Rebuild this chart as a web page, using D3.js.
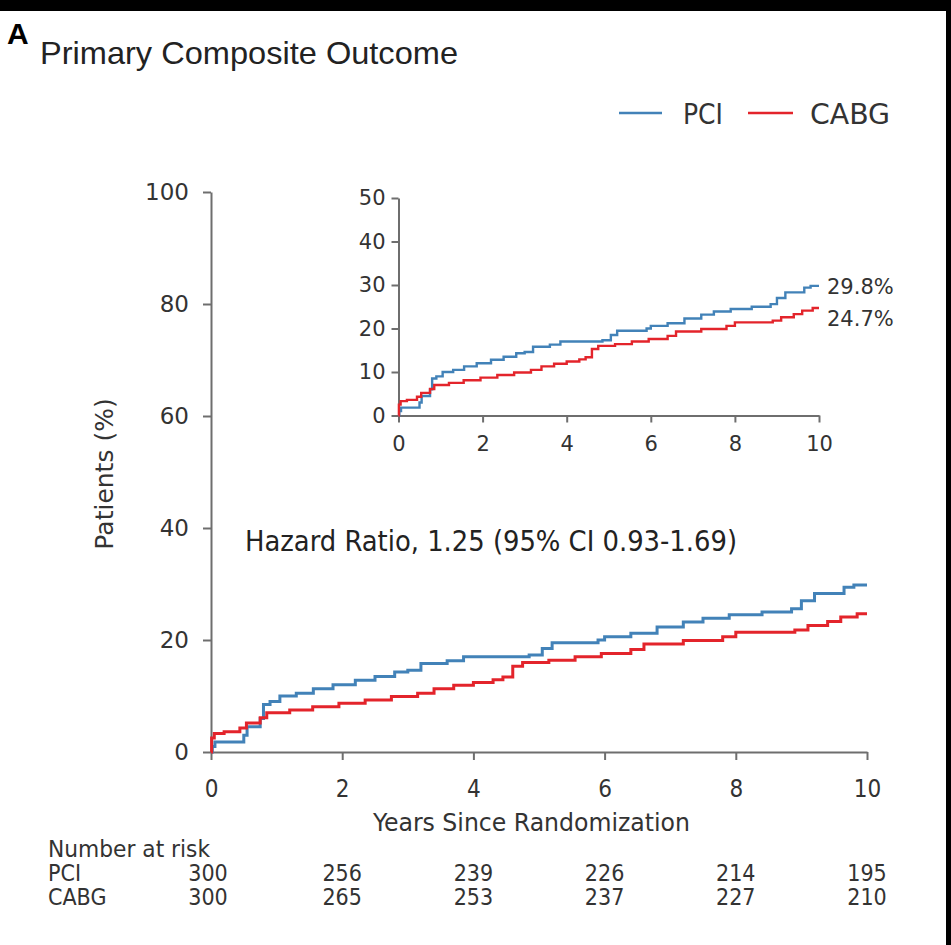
<!DOCTYPE html>
<html>
<head>
<meta charset="utf-8">
<script src="https://cdn.jsdelivr.net/npm/d3@7.9.0/dist/d3.min.js"></script>
<style>
  body { margin: 0; background: #fff; }
  svg { display: block; }
  .tick text { fill: #333; }
</style>
</head>
<body>
<svg id="chart" width="951" height="945"></svg>
<script>
// values
const riskYears = [0, 2, 4, 6, 8, 10];
const pciRisk = [300, 256, 239, 226, 214, 195];
const cabgRisk = [300, 265, 253, 237, 227, 210];

const mainYTicks = [0, 20, 40, 60, 80, 100];
const insetYTicks = [0, 10, 20, 30, 40, 50];

const pciTimes = [0, 0.02, 0.06, 0.47, 0.5, 0.55, 0.75, 0.8, 0.9, 1.05, 1.3, 1.56, 1.86, 2.2, 2.5, 2.8, 3.0, 3.2, 3.6, 3.85,
  4.85, 5.05, 5.2, 5.9, 6.0, 6.4, 6.8, 7.2, 7.5, 7.9, 8.4, 8.85, 9.0, 9.2, 9.65, 9.8, 10.0];
const pciValues = [0, 1.0, 1.8, 1.8, 3.0, 4.5, 6.0, 8.5, 9.0, 10.0, 10.5, 11.3, 12.0, 12.8, 13.5, 14.3, 14.6, 15.8, 16.3, 17.0,
  17.3, 18.5, 19.5, 20.0, 20.6, 21.2, 22.3, 23.2, 23.9, 24.5, 25.0, 25.6, 27.0, 28.3, 29.4, 29.8, 29.8];

const cabgTimes = [0, 0.01, 0.05, 0.2, 0.44, 0.54, 0.75, 0.85, 1.2, 1.55, 1.95, 2.35, 2.75, 3.15, 3.4, 3.7, 4.0, 4.3, 4.45,
  4.6, 4.75, 5.15, 5.55, 5.95, 6.4, 6.6, 7.2, 7.8, 8.0, 8.9, 9.1, 9.4, 9.6, 9.85, 10.0];
const cabgValues = [0, 2.5, 3.3, 3.6, 4.3, 5.2, 6.1, 7.0, 7.5, 8.1, 8.7, 9.3, 9.9, 10.5, 11.3, 11.9, 12.4, 12.9, 13.4,
  15.3, 16.0, 16.4, 17.0, 17.6, 18.3, 19.3, 19.9, 20.6, 21.4, 21.8, 22.6, 23.3, 24.1, 24.7, 24.7];

const pciEnd = '29.8%';
const cabgEnd = '24.7%';

const BLUE = '#4282b8';
const RED = '#e3242b';
const AXIS = '#6e6e6e';
const WIDE = '"DejaVu Sans", Verdana, sans-serif';
const NARROW = '"DejaVu Sans Condensed", "Liberation Sans Narrow", "DejaVu Sans", sans-serif';
const ARIAL = '"Liberation Sans", Arial, sans-serif';

const pci = pciTimes.map((t, i) => ({ t, v: pciValues[i] }));
const cabg = cabgTimes.map((t, i) => ({ t, v: cabgValues[i] }));

const svg = d3.select('#chart');
svg.append('rect').attr('width', 951).attr('height', 945).attr('fill', '#fff');
// black frame remnants from the scan
svg.append('rect').attr('x', 0).attr('y', 0).attr('width', 951).attr('height', 11).attr('fill', '#000');
svg.append('rect').attr('x', 946).attr('y', 0).attr('width', 5).attr('height', 945).attr('fill', '#000');

// panel letter + title
svg.append('text').attr('x', 7).attr('y', 44).attr('font-family', ARIAL).attr('font-weight', 'bold')
  .attr('font-size', 30).attr('fill', '#000').text('A');
svg.append('text').attr('x', 40).attr('y', 64).attr('font-family', ARIAL).attr('font-size', 32)
  .attr('fill', '#222').attr('textLength', 418).attr('lengthAdjust', 'spacingAndGlyphs')
  .text('Primary Composite Outcome');

// legend
const legend = svg.append('g').attr('font-family', NARROW).attr('font-size', 28).attr('fill', '#333');
legend.append('line').attr('x1', 619).attr('x2', 662).attr('y1', 113).attr('y2', 113)
  .attr('stroke', BLUE).attr('stroke-width', 2.5);
legend.append('text').attr('x', 683).attr('y', 124).attr('textLength', 40).attr('lengthAdjust', 'spacingAndGlyphs').text('PCI');
legend.append('line').attr('x1', 748).attr('x2', 793).attr('y1', 113).attr('y2', 113)
  .attr('stroke', RED).attr('stroke-width', 2.5);
legend.append('text').attr('x', 810).attr('y', 124).attr('textLength', 80).attr('lengthAdjust', 'spacingAndGlyphs').text('CABG');

// main axes
const x = d3.scaleLinear().domain([0, 10]).range([211, 867]);
const y = d3.scaleLinear().domain([0, 100]).range([752, 192]);

function styleAxis(g, family, size) {
  g.selectAll('path.domain').attr('stroke', AXIS).attr('stroke-width', 2);
  g.selectAll('.tick line').attr('stroke', AXIS).attr('stroke-width', 2);
  g.selectAll('.tick text').attr('font-family', family).attr('font-size', size).attr('fill', '#333');
}

svg.append('g').attr('transform', `translate(${x(0)},0)`)
  .call(d3.axisLeft(y).tickValues(mainYTicks).tickSize(8).tickSizeOuter(0).tickPadding(14))
  .call(g => styleAxis(g, WIDE, 23));

svg.append('g').attr('transform', `translate(0,${y(0)})`)
  .call(d3.axisBottom(x).tickValues(riskYears).tickSize(8).tickSizeOuter(0).tickPadding(20))
  .call(g => styleAxis(g, NARROW, 24));

svg.append('text').attr('transform', `translate(113,${(y(0) + y(100)) / 2 + 2}) rotate(-90)`)
  .attr('text-anchor', 'middle').attr('font-family', WIDE).attr('font-size', 25).attr('fill', '#333')
  .text('Patients (%)');

svg.append('text').attr('x', 373).attr('y', 831).attr('font-family', NARROW).attr('font-size', 25).attr('fill', '#333')
  .attr('textLength', 317).attr('lengthAdjust', 'spacingAndGlyphs').text('Years Since Randomization');

svg.append('text').attr('x', 245).attr('y', 551).attr('font-family', NARROW).attr('font-size', 29).attr('fill', '#222')
  .attr('textLength', 492).attr('lengthAdjust', 'spacingAndGlyphs').text('Hazard Ratio, 1.25 (95% CI 0.93-1.69)');

const line = d3.line().curve(d3.curveStepAfter).x(d => x(d.t)).y(d => y(d.v));
svg.append('path').datum(pci).attr('d', line).attr('fill', 'none').attr('stroke', BLUE).attr('stroke-width', 3);
svg.append('path').datum(cabg).attr('d', line).attr('fill', 'none').attr('stroke', RED).attr('stroke-width', 3);

// inset
const xi = d3.scaleLinear().domain([0, 10]).range([398.5, 819]);
const yi = d3.scaleLinear().domain([0, 50]).range([415.5, 198]);

svg.append('g').attr('transform', `translate(${xi(0)},0)`)
  .call(d3.axisLeft(yi).tickValues(insetYTicks).tickSize(7).tickSizeOuter(0).tickPadding(6))
  .call(g => styleAxis(g, WIDE, 21));

svg.append('g').attr('transform', `translate(0,${yi(0)})`)
  .call(d3.axisBottom(xi).tickValues(riskYears).tickSize(7).tickSizeOuter(0).tickPadding(14))
  .call(g => styleAxis(g, WIDE, 21));

const iline = d3.line().curve(d3.curveStepAfter).x(d => xi(d.t)).y(d => yi(d.v));
svg.append('path').datum(pci).attr('d', iline).attr('fill', 'none').attr('stroke', BLUE).attr('stroke-width', 2.4);
svg.append('path').datum(cabg).attr('d', iline).attr('fill', 'none').attr('stroke', RED).attr('stroke-width', 2.4);

svg.append('text').attr('x', xi(10) + 8).attr('y', yi(29.8) + 8).attr('font-family', WIDE).attr('font-size', 21)
  .attr('fill', '#333').text(pciEnd);
svg.append('text').attr('x', xi(10) + 8).attr('y', yi(24.7) + 18).attr('font-family', WIDE).attr('font-size', 21)
  .attr('fill', '#333').text(cabgEnd);

// number at risk table
const table = svg.append('g').attr('font-family', NARROW).attr('font-size', 23).attr('fill', '#333');
table.append('text').attr('x', 48).attr('y', 857).attr('textLength', 162).attr('lengthAdjust', 'spacingAndGlyphs')
  .text('Number at risk');
table.append('text').attr('x', 48).attr('y', 881).text('PCI');
table.append('text').attr('x', 48).attr('y', 905).text('CABG');
table.selectAll('text.pci').data(pciRisk).join('text').attr('class', 'pci')
  .attr('x', (d, i) => x(riskYears[i]) + (i === 0 ? -3 : 0)).attr('y', 881).attr('text-anchor', 'middle').text(d => d);
table.selectAll('text.cabg').data(cabgRisk).join('text').attr('class', 'cabg')
  .attr('x', (d, i) => x(riskYears[i]) + (i === 0 ? -3 : 0)).attr('y', 905).attr('text-anchor', 'middle').text(d => d);
</script>
</body>
</html>
